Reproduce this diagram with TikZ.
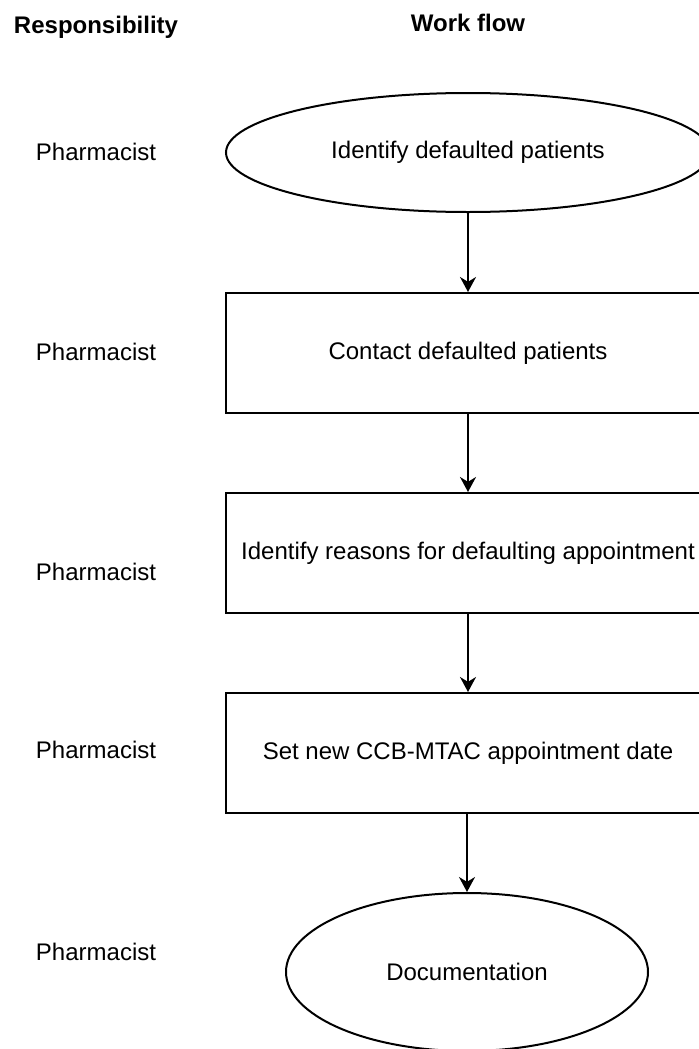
\documentclass[tikz,border=0pt]{standalone}
\usepackage{fontspec}
\setmainfont{Liberation Sans}
\usetikzlibrary{shapes.geometric}
\usetikzlibrary{arrows.meta}

\begin{document}
\begin{tikzpicture}[x=0.5pt,y=-0.5pt,line width=1pt,>={Stealth[length=7.5pt,width=8pt]},
    every node/.style={font=\fontsize{12}{14}\selectfont},
    head/.style={anchor=base,font=\fontsize{12}{14}\selectfont\bfseries},
    role/.style={anchor=base},
    task/.style={draw,rectangle,minimum width=242pt,minimum height=60pt,inner sep=0pt},
    terminal/.style={draw,ellipse,inner sep=0pt}]
    \clip (0,0) rectangle (699,1049);
    \node[head] (resp) at (96,33) {Responsibility};
    \node[head] (flow) at (468,32) {Work flow};
    %
    \node[role] (r1) at (96,160) {Pharmacist};
    \node[role] (r2) at (96,360) {Pharmacist};
    \node[role] (r3) at (96,580) {Pharmacist};
    \node[role] (r4) at (96,758) {Pharmacist};
    \node[role] (r5) at (96,960) {Pharmacist};
    %
    \node[terminal,minimum width=242pt,minimum height=59.5pt] (identify) at (468,152.5) {Identify defaulted patients};
    \node[task] (contact) at (468,353) {Contact defaulted patients};
    \node[task] (reasons) at (468,553) {Identify reasons for defaulting appointment};
    \node[task] (newdate) at (468,753) {Set new CCB-MTAC appointment date};
    \node[terminal,minimum width=181pt,minimum height=79pt] (doc) at (467,972) {Documentation};
    %
    \draw[->] (identify) -- (contact);
    \draw[->] (contact) -- (reasons);
    \draw[->] (reasons) -- (newdate);
    \draw[->] (newdate.south -| doc.north) -- (doc);
\end{tikzpicture}
\end{document}
